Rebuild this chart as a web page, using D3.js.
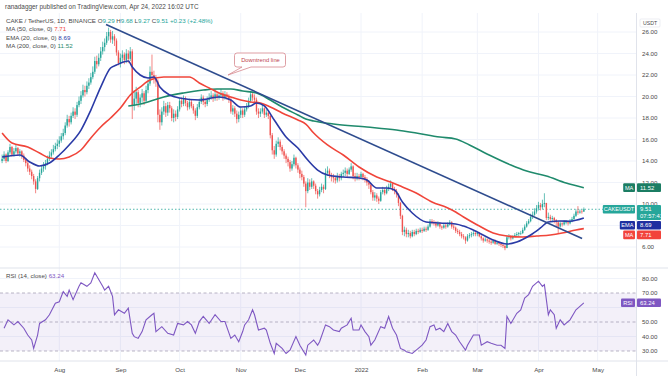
<!DOCTYPE html>
<html>
<head>
<meta charset="utf-8">
<script src="https://cdn.jsdelivr.net/npm/d3@7"></script>
<style>
  body { margin: 0; background: #fff; }
  svg { display: block; font-family: "Liberation Sans", Arial, sans-serif; }
</style>
</head>
<body>
<div id="graphicContainer"></div>
<script>
// daily candles from 2021-07-03, open = previous close
var startDate = new Date(Date.UTC(2021, 6, 3))
var firstOpen = 14.0
var closes = [
  14.2,14.6,14.0,14.8,15.3,14.6,14.9,15.2,14.7,14.9,14.5,14.1,13.8,13.3,13.0,12.6,12.1,11.4,12.4,12.9,
  13.3,13.5,13.8,14.2,14.5,14.8,15.1,15.4,15.6,15.9,16.3,16.6,17.3,17.9,17.6,18.2,18.6,18.3,19.2,19.6,
  20.1,20.6,20.4,21.0,21.3,21.8,22.3,23.3,23.0,23.6,24.2,24.6,25.0,25.6,26.0,25.3,25.6,25.2,24.1,23.1,
  23.6,23.9,23.4,24.0,23.5,24.2,19.2,19.8,20.4,19.4,19.9,20.3,19.6,20.6,21.2,22.3,22.0,21.7,21.4,18.3,
  17.6,18.6,19.1,18.5,19.2,18.9,18.0,18.4,18.1,18.8,19.6,19.3,19.8,19.4,19.0,19.5,19.1,18.7,18.2,19.0,
  19.5,19.9,19.5,19.3,19.7,19.9,20.1,19.8,20.2,19.9,20.1,20.3,19.9,20.2,20.0,19.7,18.6,18.9,18.4,17.9,
  18.3,18.7,18.3,18.8,19.1,19.6,20.2,19.9,19.7,18.6,18.4,18.6,18.9,18.3,18.5,18.2,16.4,15.0,14.6,15.6,
  15.8,15.3,14.9,14.5,14.2,13.9,13.3,13.7,14.3,13.6,13.2,12.8,12.5,11.9,11.2,12.0,11.6,12.1,11.7,11.2,
  10.9,11.3,11.6,11.4,12.9,13.1,12.7,12.5,12.4,12.2,12.6,12.4,12.8,12.9,13.1,12.8,13.2,13.5,12.6,12.4,
  12.6,12.5,12.8,12.5,12.3,12.0,11.8,11.1,10.6,10.8,10.5,10.3,11.1,11.3,11.0,11.4,11.6,11.9,11.4,11.2,
  10.9,10.1,8.9,7.4,7.6,7.2,7.3,7.0,7.4,7.2,7.5,7.4,7.6,7.5,7.7,7.6,7.9,8.4,8.3,8.2,
  8.0,8.2,7.9,7.8,8.0,7.9,8.1,8.3,7.9,7.8,7.5,7.4,7.2,7.0,6.9,6.6,7.0,7.1,7.2,7.3,
  7.2,7.3,7.0,6.8,6.6,6.7,6.6,6.5,6.4,6.6,6.3,6.4,6.3,6.2,6.1,5.9,6.9,7.0,6.8,7.0,
  7.1,7.2,7.3,7.3,7.6,7.9,8.2,8.4,8.8,9.0,9.3,9.6,9.9,9.7,10.0,10.1,8.7,8.8,8.6,8.7,
  8.5,8.3,7.9,8.2,8.1,8.3,8.3,8.2,8.4,8.6,8.9,9.3,9.2,9.3,9.29,9.51
]
var highs = [
  14.6,14.9,14.7,15.0,15.6,15.4,15.2,15.5,15.3,15.1,15.0,14.7,14.3,14.0,13.6,13.2,12.8,12.3,12.6,13.2,
  13.6,13.9,14.1,14.5,14.9,15.1,15.5,15.7,16.0,16.3,16.6,17.0,17.6,18.3,18.2,18.5,19.0,18.9,19.5,20.0,
  20.5,21.1,21.0,21.4,21.7,22.2,22.8,23.7,23.8,24.0,24.6,25.1,25.4,26.0,26.4,26.2,26.1,25.8,25.4,24.3,
  24.0,24.3,24.1,24.4,24.3,24.6,24.4,20.6,20.9,20.6,20.2,20.7,20.5,21.0,21.6,22.8,23.9,22.4,22.0,21.6,
  18.8,19.0,19.6,19.4,19.5,19.5,19.1,18.8,18.7,19.1,19.9,19.9,20.1,20.0,19.6,19.8,19.7,19.3,18.9,19.3,
  19.8,20.2,20.1,19.8,20.0,20.3,20.5,20.3,20.6,20.4,20.4,20.7,20.5,20.5,20.4,20.2,19.9,19.2,19.1,18.7,
  18.6,19.0,18.9,19.1,19.4,19.9,20.5,20.4,20.2,19.9,18.9,18.9,19.2,19.0,18.8,18.7,18.3,16.6,15.4,15.9,
  16.2,16.0,15.5,15.1,14.7,14.4,14.1,14.0,14.6,14.4,13.8,13.4,13.1,12.7,12.1,12.4,12.3,12.4,12.2,11.9,
  11.4,11.6,11.9,11.8,13.3,13.5,13.3,12.9,12.8,12.6,12.9,12.8,13.0,13.2,13.4,13.3,13.4,13.8,13.6,12.9,
  12.9,12.8,13.0,12.9,12.7,12.5,12.2,11.9,11.3,11.1,11.0,10.7,11.3,11.6,11.5,11.7,11.9,12.2,12.0,11.6,
  11.4,11.0,10.2,9.0,7.9,7.8,7.6,7.5,7.6,7.6,7.7,7.7,7.8,7.8,7.9,7.9,8.1,8.6,8.6,8.5,
  8.4,8.4,8.3,8.0,8.2,8.2,8.3,8.5,8.4,8.1,7.9,7.7,7.6,7.4,7.2,7.0,7.2,7.3,7.4,7.5,
  7.5,7.4,7.4,7.1,6.9,6.9,6.8,6.8,6.7,6.7,6.7,6.5,6.5,6.4,6.3,6.2,7.1,7.2,7.1,7.1,
  7.3,7.4,7.4,7.5,7.8,8.1,8.4,8.6,9.1,9.3,9.6,9.9,10.2,10.1,10.4,11.0,10.1,9.2,9.0,8.9,
  8.8,8.6,8.4,8.4,8.3,8.5,8.5,8.4,8.6,8.8,9.1,9.5,9.8,9.5,9.45,9.68
]
var lows = [
  13.8,14.0,13.8,13.9,14.6,14.4,14.4,14.7,14.5,14.4,14.2,13.9,13.5,13.0,12.7,12.3,11.8,11.0,11.3,12.1,
  12.7,13.0,13.2,13.6,14.0,14.3,14.6,14.9,15.1,15.3,15.7,16.0,16.4,17.1,17.2,17.4,18.0,17.9,18.1,19.0,
  19.3,19.9,20.0,20.2,20.7,21.1,21.6,22.1,22.6,22.8,23.3,23.9,24.2,24.8,25.2,25.0,24.9,24.7,23.8,22.9,
  22.7,23.2,23.0,23.1,23.1,23.3,17.9,18.7,19.3,19.0,19.0,19.5,19.2,19.4,20.3,21.0,21.6,21.2,20.9,17.6,
  16.9,17.3,18.3,18.1,18.2,18.5,17.7,17.6,17.7,17.9,18.6,19.0,19.1,19.1,18.7,18.8,18.9,18.4,17.8,18.0,
  18.8,19.3,19.2,19.0,19.1,19.5,19.7,19.5,19.6,19.6,19.7,19.9,19.6,19.7,19.7,19.4,18.4,18.3,18.1,17.5,
  17.6,18.0,18.0,18.1,18.6,18.9,19.4,19.6,19.4,18.3,18.0,18.1,18.4,18.0,18.1,17.9,16.1,14.6,14.2,14.4,
  15.3,15.0,14.6,14.2,13.8,13.5,13.0,13.1,13.5,13.3,12.9,12.4,12.2,11.6,9.7,11.0,11.3,11.4,11.4,10.9,
  10.5,10.7,11.1,11.0,11.3,12.6,12.4,12.1,12.0,11.9,12.0,12.1,12.2,12.5,12.6,12.5,12.7,13.0,12.3,12.1,
  12.2,12.2,12.3,12.2,12.0,11.7,11.4,10.9,10.3,10.3,10.2,10.0,10.2,10.9,10.8,10.9,11.2,11.4,11.2,10.9,
  10.6,9.8,8.6,7.1,7.0,6.9,6.9,6.8,6.9,7.0,7.1,7.2,7.3,7.3,7.4,7.4,7.5,7.8,8.1,8.0,
  7.8,7.9,7.7,7.6,7.7,7.7,7.8,8.0,7.7,7.6,7.3,7.2,7.0,6.8,6.7,6.3,6.5,6.8,6.9,7.0,
  7.0,7.0,6.9,6.6,6.4,6.5,6.4,6.3,6.2,6.3,6.2,6.2,6.1,6.0,5.9,5.7,5.9,6.7,6.6,6.7,
  6.9,7.0,7.0,7.1,7.2,7.5,7.8,8.1,8.3,8.6,8.9,9.1,9.4,9.4,9.5,9.7,8.5,8.5,8.4,8.3,
  8.2,7.9,7.3,7.8,7.9,8.0,8.1,8.0,8.1,8.3,8.5,8.8,9.0,9.1,9.1,9.27
]

// indicator lines: [day index, value]
var ema20 = [[0,14.37],[9,14.56],[14,13.91],[19,13.53],[24,13.81],[29,14.56],[34,15.49],[40,16.88],[45,18.74],[50,20.88],
  [55,22.65],[58,22.93],[64,23.3],[66,22.74],[70,22.0],[74,21.72],[77,21.81],[80,20.88],[85,20.14],[90,19.86],
  [100,19.67],[110,19.95],[116,19.67],[121,19.02],[126,19.12],[129,19.4],[133,19.12],[138,17.81],[144,16.23],[150,15.21],
  [155,14.09],[160,13.16],[165,12.7],[173,12.51],[181,12.42],[185,12.23],[190,11.49],[195,11.49],[199,11.3],[203,10.19],
  [208,9.16],[215,8.33],[222,8.23],[230,8.14],[234,7.95],[241,7.4],[249,6.65],[256,6.28],[261,6.47],[268,7.12],
  [273,7.77],[277,8.33],[283,8.42],[288,8.4],[295,8.69]]
var ma50 = [[0,16.6],[5,15.67],[13,15.3],[19,14.74],[24,14.28],[29,14.19],[34,14.37],[40,15.02],[45,16.14],[50,17.16],
  [55,18.0],[60,18.93],[65,20.14],[70,20.88],[75,21.53],[82,21.81],[95,21.81],[100,21.26],[105,20.79],[110,20.33],
  [116,19.95],[121,19.67],[126,19.49],[131,19.4],[136,19.02],[142,18.47],[150,17.81],[154,17.44],[158,16.6],[165,15.49],
  [173,14.56],[181,13.44],[190,12.51],[197,12.05],[203,11.58],[210,11.02],[218,10.19],[226,9.63],[230,9.26],[234,8.79],
  [241,8.05],[249,7.3],[256,7.02],[264,6.93],[271,7.02],[278,7.12],[284,7.3],[291,7.58],[295,7.71]]
var ma200 = [[64,19.12],[70,19.3],[77,19.67],[82,19.95],[92,20.33],[102,20.6],[109,20.7],[116,20.7],[122,20.51],[129,20.33],
  [136,19.67],[142,19.02],[150,18.28],[154,17.91],[158,17.72],[168,17.44],[185,17.16],[200,16.88],[210,16.6],[222,16.23],
  [230,16.05],[237,15.49],[247,14.56],[258,13.63],[266,13.07],[276,12.6],[286,11.95],[295,11.52]]
var rsi = [[1,45.7],[3,51.5],[6,48],[8,50.3],[11,45.7],[13,41],[15,37.6],[16,31.8],[18,41],[19,49],
  [22,51.5],[24,55],[27,63],[29,64],[31,71],[33,67.7],[34,72],[36,65.4],[39,74.6],[40,77],
  [43,74.6],[45,77],[47,83.9],[49,79.3],[51,74.6],[52,72],[54,74.6],[56,67.7],[57,55],[59,58.4],
  [62,56],[64,59.6],[66,42.2],[67,39.9],[69,38.7],[71,43.4],[73,51.5],[76,55],[77,56],[78,43.4],
  [81,46.8],[84,42.2],[87,41],[89,49],[92,48],[94,50.3],[96,48],[98,42.2],[100,50.3],[102,53.8],
  [105,49],[108,55],[111,50.3],[113,50.3],[116,38.7],[118,41],[120,36.4],[122,43.4],[123,48],[125,51.5],
  [127,58.4],[128,55],[130,44.5],[133,45.7],[134,44.5],[136,35.3],[138,28.3],[139,35.3],[142,31.8],[144,28.3],
  [146,30.6],[149,40],[151,34],[154,27.2],[155,34],[158,37.6],[160,34],[161,36.4],[164,48],[166,46.8],
  [168,44.5],[171,43.4],[172,45.7],[175,48],[177,52.6],[178,44.5],[181,44.5],[182,48],[184,43.4],[186,39.9],
  [187,34],[189,37.6],[192,46.8],[194,45.7],[196,53.8],[198,45.7],[200,41],[202,31.8],[204,30.6],[205,29.5],
  [208,28.3],[210,30.6],[213,34],[215,37.6],[217,46.8],[219,48],[220,44.5],[222,45.7],[224,43.4],[226,49],
  [228,43.4],[230,41],[232,36.4],[235,30.6],[236,34],[239,41],[242,41],[243,34],[246,36.4],[248,35.3],
  [251,34],[253,34],[255,31.8],[256,53.8],[258,49],[261,56],[263,58.4],[265,66.5],[267,68.8],[269,74.6],
  [271,77],[272,78.1],[274,74.6],[275,75.8],[277,55],[278,58.4],[280,55],[281,45.7],[283,51.5],[285,48],
  [288,51.5],[291,58.4],[292,59.6],[295,63.24]]
var downtrend = [[52.7,26.7],[294.1,6.79]]

var priceTicks = [6, 8, 10, 12, 14, 16, 18, 20, 22, 24, 26]
var priceLabels = [6, 10, 12, 14, 16, 18, 20, 22, 24, 26]
var rsiLabels = [30, 40, 50, 70, 80]
var monthNames = ["Jan","Feb","Mar","Apr","May","Jun","Jul","Aug","Sep","Oct","Nov","Dec"]

var width = 668, height = 376
var plotRight = 636
var priceTop = 13, priceBottom = 268, rsiBottom = 361

var upColor = "#26a69a", downColor = "#ef5350"
var ma50Color = "#f0453a", emaColor = "#2a3aa6", ma200Color = "#1f8a6c", rsiColor = "#7e57c2"
var textGray = "#4a4a4a"

function dayDate(i) {
  return new Date(startDate.getTime() + i * 86400000)
}

var svg = d3.select("#graphicContainer").append("svg")
  .attr("width", width)
  .attr("height", height)

var x = d3.scaleUtc()
  .domain([startDate, dayDate(295)])
  .range([2.1, 2.1 + 295 * 1.972])
var y = d3.scaleLinear().domain([6, 26]).range([247, 32])
var yR = d3.scaleLinear().domain([30, 70]).range([351, 293])

var months = d3.utcMonth.range(dayDate(20), dayDate(315))

// grid
var grid = svg.append("g")
grid.selectAll(".vgrid").data(months).enter().append("line")
  .attr("x1", function (d) { return x(d) }).attr("x2", function (d) { return x(d) })
  .attr("y1", priceTop).attr("y2", rsiBottom)
  .attr("stroke", "#f0f3fa").attr("stroke-width", 1)
grid.selectAll(".hgrid").data(priceTicks).enter().append("line")
  .attr("x1", 0).attr("x2", plotRight)
  .attr("y1", function (d) { return y(d) }).attr("y2", function (d) { return y(d) })
  .attr("stroke", "#f0f3fa").attr("stroke-width", 1)
grid.selectAll(".rgrid").data([40, 60, 80]).enter().append("line")
  .attr("x1", 0).attr("x2", plotRight)
  .attr("y1", function (d) { return yR(d) }).attr("y2", function (d) { return yR(d) })
  .attr("stroke", "#f0f3fa").attr("stroke-width", 1)

svg.append("defs").append("clipPath").attr("id", "priceClip")
  .append("rect").attr("x", 0).attr("y", priceTop).attr("width", plotRight).attr("height", priceBottom - priceTop)

// last price line
svg.append("line")
  .attr("x1", 0).attr("x2", plotRight)
  .attr("y1", y(9.51)).attr("y2", y(9.51))
  .attr("stroke", upColor).attr("stroke-width", 0.8).attr("stroke-dasharray", "1.5,2")

var candles = closes.map(function (c, i) {
  return { date: dayDate(i), open: i ? closes[i - 1] : firstOpen, high: highs[i], low: lows[i], close: c }
})

var price = svg.append("g").attr("clip-path", "url(#priceClip)")

price.selectAll(".wick").data(candles).enter().append("line")
  .attr("x1", function (d) { return x(d.date) }).attr("x2", function (d) { return x(d.date) })
  .attr("y1", function (d) { return y(d.high) }).attr("y2", function (d) { return y(d.low) })
  .attr("stroke", function (d) { return d.close >= d.open ? upColor : downColor })
  .attr("stroke-width", 0.7)

price.selectAll(".body").data(candles).enter().append("rect")
  .attr("x", function (d) { return x(d.date) - 0.7 })
  .attr("width", 1.4)
  .attr("y", function (d) { return y(Math.max(d.open, d.close)) })
  .attr("height", function (d) { return Math.max(0.6, Math.abs(y(d.open) - y(d.close))) })
  .attr("fill", function (d) { return d.close >= d.open ? upColor : downColor })

var line = d3.line()
  .x(function (d) { return x(dayDate(d[0])) })
  .y(function (d) { return y(d[1]) })
  .curve(d3.curveMonotoneX)

price.append("path").datum(ma200).attr("d", line)
  .attr("fill", "none").attr("stroke", ma200Color).attr("stroke-width", 1.6)
price.append("path").datum(ma50).attr("d", line)
  .attr("fill", "none").attr("stroke", ma50Color).attr("stroke-width", 1.6)
price.append("path").datum(ema20).attr("d", line)
  .attr("fill", "none").attr("stroke", emaColor).attr("stroke-width", 1.6)
price.append("path").datum(downtrend).attr("d", d3.line()
    .x(function (d) { return x(dayDate(d[0])) })
    .y(function (d) { return y(d[1]) }))
  .attr("fill", "none").attr("stroke", "#2e4c8e").attr("stroke-width", 1.6)

// callout
var callout = svg.append("g")
callout.append("path")
  .attr("d", "M237,53 h46 a2.5,2.5 0 0 1 2.5,2.5 v9 a2.5,2.5 0 0 1 -2.5,2.5 h-32 l-23,8 l14,-8 h-5 a2.5,2.5 0 0 1 -2.5,-2.5 v-9 a2.5,2.5 0 0 1 2.5,-2.5 z")
  .attr("fill", "#fff").attr("stroke", "#d6868d").attr("stroke-width", 0.8)
callout.append("text")
  .attr("x", 260.5).attr("y", 62.3)
  .attr("text-anchor", "middle")
  .attr("font-size", 5.8)
  .attr("fill", "#c0454f")
  .text("Downtrend line")

// RSI pane
svg.append("rect")
  .attr("x", 0).attr("width", plotRight)
  .attr("y", yR(70)).attr("height", yR(30) - yR(70))
  .attr("fill", rsiColor).attr("fill-opacity", 0.09)
svg.selectAll(".rsiLevel").data([70, 50, 30]).enter().append("line")
  .attr("x1", 0).attr("x2", plotRight)
  .attr("y1", function (d) { return yR(d) }).attr("y2", function (d) { return yR(d) })
  .attr("stroke", "#9c95ad").attr("stroke-width", 0.7).attr("stroke-dasharray", "3,2.5")

svg.append("path").datum(rsi)
  .attr("d", d3.line()
    .x(function (d) { return x(dayDate(d[0])) })
    .y(function (d) { return yR(d[1]) }))
  .attr("fill", "none").attr("stroke", rsiColor).attr("stroke-width", 1.1)

// borders
svg.append("line").attr("x1", 0).attr("x2", width).attr("y1", priceBottom).attr("y2", priceBottom)
  .attr("stroke", "#e0e3eb").attr("stroke-width", 1.2)
svg.append("line").attr("x1", 0).attr("x2", width).attr("y1", rsiBottom).attr("y2", rsiBottom)
  .attr("stroke", "#e0e3eb").attr("stroke-width", 1)
svg.append("line").attr("x1", plotRight + 0.5).attr("x2", plotRight + 0.5).attr("y1", priceTop).attr("y2", height)
  .attr("stroke", "#e0e3eb").attr("stroke-width", 1)

// axes (labels hidden behind the tags in the original are left out)
svg.append("g")
  .attr("transform", "translate(" + (plotRight + 3) + ",0)")
  .call(d3.axisRight(y).tickValues(priceLabels).tickSize(0).tickFormat(d3.format(".2f")))
svg.append("g")
  .attr("transform", "translate(" + (plotRight + 3) + ",0)")
  .call(d3.axisRight(yR).tickValues(rsiLabels).tickSize(0).tickFormat(d3.format(".2f")))
svg.append("g")
  .attr("transform", "translate(0," + (rsiBottom + 4) + ")")
  .call(d3.axisBottom(x).tickValues(months).tickSize(0).tickFormat(function (d) {
    return d.getUTCMonth() === 0 ? String(d.getUTCFullYear()) : monthNames[d.getUTCMonth()]
  }))
svg.selectAll(".domain").remove()
svg.selectAll(".tick text").attr("fill", textGray).attr("font-size", 6.2)
  .attr("font-family", "Liberation Sans, Arial, sans-serif")

svg.append("rect").attr("x", 640).attr("y", 19).attr("width", 20).attr("height", 8)
  .attr("fill", "#fff").attr("stroke", "#e0e3eb").attr("stroke-width", 0.6).attr("rx", 1)
svg.append("text").attr("x", 650).attr("y", 25).attr("text-anchor", "middle")
  .attr("font-size", 5.2).attr("fill", textGray).text("USDT")

// price tags on the scale
var tags = [
  { v: 11.52, title: "MA", value: ["11.52"], color: "#1b7d63" },
  { v: 9.51, title: "CAKEUSDT", value: ["9.51", "07:57:41"], color: upColor },
  { v: 8.69, title: "EMA", value: ["8.69"], color: "#1f2fa0" },
  { v: 7.71, title: "MA", value: ["7.71"], color: "#f2433b" }
]
var lastBottom = 0
tags.forEach(function (t) {
  var h = t.value.length > 1 ? 15 : 8.6
  var top = Math.max(y(t.v) - 4.3, lastBottom + 1)
  lastBottom = top + h
  var tw = t.title.length * 3.4 + 5
  var g = svg.append("g")
  g.append("rect").attr("x", plotRight - 1 - tw).attr("y", top).attr("width", tw).attr("height", 8.6)
    .attr("fill", t.color).attr("rx", 1)
  g.append("text").attr("x", plotRight - 1 - tw / 2).attr("y", top + 6.3).attr("text-anchor", "middle")
    .attr("font-size", 5.6).attr("fill", "#fff").text(t.title)
  g.append("rect").attr("x", plotRight + 1).attr("y", top).attr("width", 24).attr("height", h)
    .attr("fill", t.color).attr("rx", 1)
  t.value.forEach(function (s, k) {
    g.append("text").attr("x", plotRight + 4).attr("y", top + 6.4 + k * 7)
      .attr("font-size", 5.9).attr("fill", "#fff").text(s)
  })
})

var rg = svg.append("g")
var rTop = yR(63.24) - 4.3
rg.append("rect").attr("x", plotRight - 15).attr("y", rTop).attr("width", 14).attr("height", 8.6)
  .attr("fill", rsiColor).attr("rx", 1)
rg.append("text").attr("x", plotRight - 8).attr("y", rTop + 6.3).attr("text-anchor", "middle")
  .attr("font-size", 5.6).attr("fill", "#fff").text("RSI")
rg.append("rect").attr("x", plotRight + 1).attr("y", rTop).attr("width", 24).attr("height", 8.6)
  .attr("fill", rsiColor).attr("rx", 1)
rg.append("text").attr("x", plotRight + 4).attr("y", rTop + 6.4)
  .attr("font-size", 5.9).attr("fill", "#fff").text("63.24")

// header and legends
svg.append("text").attr("x", 5).attr("y", 8.5)
  .attr("font-size", 6.4).attr("fill", textGray)
  .text("ranadagger published on TradingView.com, Apr 24, 2022 16:02 UTC")

function legendLine(yPos, parts) {
  var t = svg.append("text").attr("x", 6).attr("y", yPos).attr("font-size", 6.2)
  parts.forEach(function (p) {
    t.append("tspan").attr("fill", p[1]).text(p[0])
  })
}
legendLine(22.5, [["CAKE / TetherUS, 1D, BINANCE  ", textGray], ["O", textGray], ["9.29 ", upColor],
  ["H", textGray], ["9.68 ", upColor], ["L", textGray], ["9.27 ", upColor], ["C", textGray],
  ["9.51 +0.23 (+2.48%)", upColor]])
legendLine(31, [["MA (50, close, 0)  ", textGray], ["7.71", ma50Color]])
legendLine(39.5, [["EMA (20, close, 0)  ", textGray], ["8.69", emaColor]])
legendLine(48, [["MA (200, close, 0)  ", textGray], ["11.52", ma200Color]])
legendLine(277.5, [["RSI (14, close)  ", textGray], ["63.24", rsiColor]])
</script>
</body>
</html>
